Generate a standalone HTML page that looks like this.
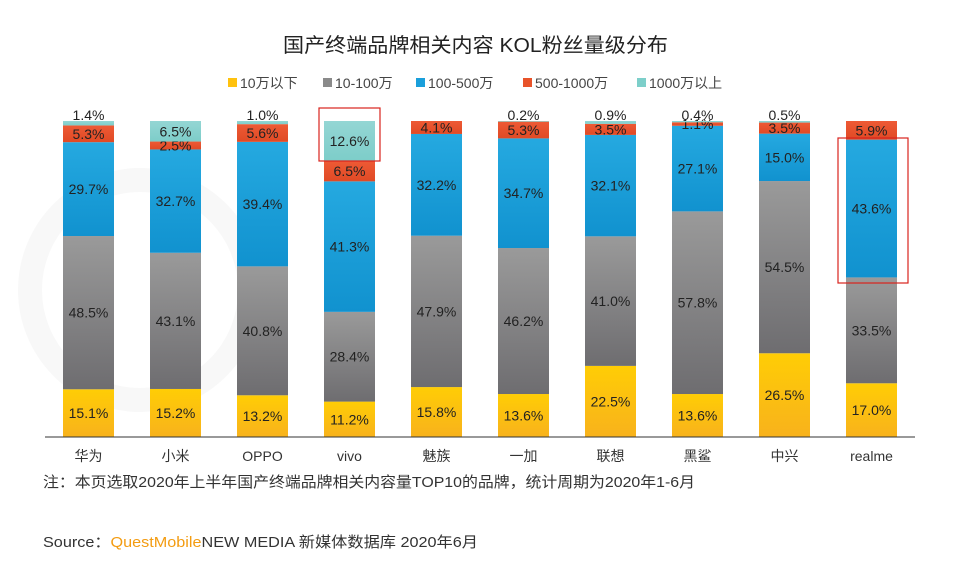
<!DOCTYPE html>
<html><head><meta charset="utf-8">
<style>
html,body{margin:0;padding:0;background:#fff;}
body{width:960px;height:564px;overflow:hidden;font-family:"Liberation Sans","Noto Sans CJK SC",sans-serif;}
svg text{font-family:"Liberation Sans","Noto Sans CJK SC",sans-serif;}
</style></head>
<body>
<svg id="chart" width="960" height="564" viewBox="0 0 960 564">
<defs>
<linearGradient id="g0" x1="0" y1="0" x2="0" y2="1"><stop offset="0" stop-color="#ffcd05"/><stop offset="1" stop-color="#f8b21c"/></linearGradient>
<linearGradient id="g1" x1="0" y1="0" x2="0" y2="1"><stop offset="0" stop-color="#9a9a9a"/><stop offset="1" stop-color="#6e6d70"/></linearGradient>
<linearGradient id="g2" x1="0" y1="0" x2="0" y2="1"><stop offset="0" stop-color="#25a9e0"/><stop offset="1" stop-color="#1192cf"/></linearGradient>
<linearGradient id="g3" x1="0" y1="0" x2="0" y2="1"><stop offset="0" stop-color="#ee5a35"/><stop offset="1" stop-color="#e04a25"/></linearGradient>
<linearGradient id="g4" x1="0" y1="0" x2="0" y2="1"><stop offset="0" stop-color="#94d6d4"/><stop offset="1" stop-color="#7dcdc9"/></linearGradient>
</defs>
<circle cx="140" cy="290" r="110" fill="none" stroke="#f8f8f8" stroke-width="24"/>
<text x="283" y="52" textLength="385" lengthAdjust="spacingAndGlyphs" font-size="20" fill="#222">国产终端品牌相关内容 KOL粉丝量级分布</text>
<g id="legend"></g>
<g id="bars"></g>
<line x1="45" y1="437" x2="915" y2="437" stroke="#333" stroke-width="1"/>
<g id="xlabels"></g>
<rect x="319" y="108" width="61" height="53" fill="none" stroke="#d9231d" stroke-width="1.2"/>
<rect x="838" y="138" width="70" height="145" fill="none" stroke="#d9231d" stroke-width="1.2"/>
<text x="43" y="487" textLength="652" lengthAdjust="spacingAndGlyphs" font-size="15" fill="#333">注：本页选取2020年上半年国产终端品牌相关内容量TOP10的品牌，统计周期为2020年1-6月</text>
<text x="43" y="547" textLength="435" lengthAdjust="spacingAndGlyphs" font-size="15" fill="#333">Source：<tspan fill="#f39c12">QuestMobile</tspan>NEW MEDIA 新媒体数据库 2020年6月</text>
</svg>
<script>
const categories = ["华为","小米","OPPO","vivo","魅族","一加","联想","黑鲨","中兴","realme"];
const seriesNames = ["10万以下","10-100万","100-500万","500-1000万","1000万以上"];
const s0 = [15.1,15.2,13.2,11.2,15.8,13.6,22.5,13.6,26.5,17.0];
const s1 = [48.5,43.1,40.8,28.4,47.9,46.2,41.0,57.8,54.5,33.5];
const s2 = [29.7,32.7,39.4,41.3,32.2,34.7,32.1,27.1,15.0,43.6];
const s3 = [5.3,2.5,5.6,6.5,4.1,5.3,3.5,1.1,3.5,5.9];
const s4 = [1.4,6.5,1.0,12.6,0,0.2,0.9,0.4,0.5,0];

const NS="http://www.w3.org/2000/svg";
const series=[s0,s1,s2,s3,s4];
const fills=["url(#g0)","url(#g1)","url(#g2)","url(#g3)","url(#g4)"];
const legendColors=["#ffc20e","#8a8a8a","#1a9fdb","#e8532a","#7dcfca"];
const plotTop=121, plotBot=437, barW=51;
function xCenter(i){return 88.5+i*87;}
function yScale(v){return plotBot-(plotBot-plotTop)*v/100;}
const bars=document.getElementById('bars');
categories.forEach((c,i)=>{
  let total=0; series.forEach(s=>total+=s[i]);
  let cum=0;
  series.forEach((s,k)=>{
    const v=s[i]; if(v<=0){return;}
    const y1=yScale((cum+v)/total*100), y0=yScale(cum/total*100);
    const r=document.createElementNS(NS,'rect');
    r.setAttribute('x',xCenter(i)-barW/2);r.setAttribute('y',y1);
    r.setAttribute('width',barW);r.setAttribute('height',y0-y1);
    r.setAttribute('fill',fills[k]);
    
    
    bars.appendChild(r);
    const t=document.createElementNS(NS,'text');
    let ty=(y0+y1)/2+5;
    if(v<2 && k===4){ty=y1-1;}
    t.setAttribute('x',xCenter(i));t.setAttribute('y',ty);
    t.setAttribute('text-anchor','middle');t.setAttribute('font-size','14');t.setAttribute('fill','#222');
    t.textContent=v.toFixed(1)+'%';
    
    
    bars.appendChild(t);
    cum+=v;
  });
  const xl=document.createElementNS(NS,'text');
  xl.setAttribute('x',xCenter(i));xl.setAttribute('y',461);
  xl.setAttribute('text-anchor','middle');xl.setAttribute('font-size','14');xl.setAttribute('fill','#333');
  xl.textContent=c;
  
  
  document.getElementById('xlabels').appendChild(xl);
});
const legendX=[228,323,416,523,637];
const lg=document.getElementById('legend');
seriesNames.forEach((n,k)=>{
  const r=document.createElementNS(NS,'rect');
  r.setAttribute('x',legendX[k]);r.setAttribute('y',78);r.setAttribute('width',9);r.setAttribute('height',9);
  r.setAttribute('fill',legendColors[k]);
  
  
  lg.appendChild(r);
  const t=document.createElementNS(NS,'text');
  t.setAttribute('x',legendX[k]+12);t.setAttribute('y',88);t.setAttribute('font-size','14');t.setAttribute('fill','#444');
  t.textContent=n;
  
  
  lg.appendChild(t);
});
</script>
</body></html>
